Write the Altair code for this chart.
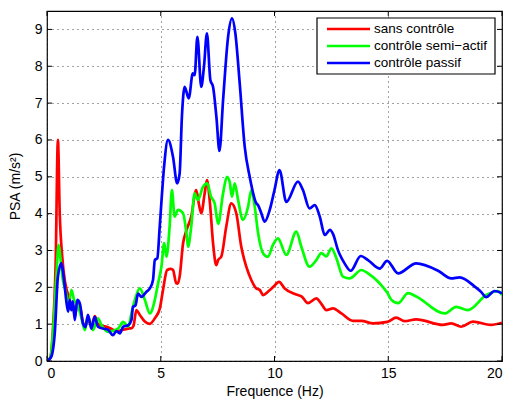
import altair as alt
import pandas as pd

# ---- data ----
series_names = ["sans contrôle", "contrôle semi−actif", "contrôle passif"]
series_colors = ["#ff0000", "#00ff00", "#0000ff"]

freq_red = [0, 0.15, 0.26, 0.38, 0.48, 0.56, 0.67, 0.78, 0.85, 1.0, 1.07, 1.14, 1.22, 1.33, 1.44,
            1.58, 1.69, 1.80, 1.95, 2.10, 2.24, 2.46, 2.62, 2.9, 3.13, 3.35, 3.57, 3.71, 3.8, 3.93,
            4.08, 4.3, 4.52, 4.74, 4.96, 5.1, 5.28, 5.45, 5.54, 5.68, 5.75, 5.83, 5.98, 6.13, 6.34,
            6.56, 6.67, 6.78, 6.93, 7.03, 7.15, 7.30, 7.44, 7.52, 7.66, 7.88, 8.10, 8.32, 8.54, 8.76,
            8.98, 9.2, 9.35, 9.5, 9.71, 9.93, 10.2, 10.45, 10.81, 11.03, 11.2, 11.47, 11.84, 12.06,
            12.28, 12.57, 12.94, 13.45, 13.82, 14.33, 14.96, 15.35, 15.72, 16.23, 17.4, 17.77,
            18.21, 18.72, 19.52, 20.0]
psa_red = [0, 0.1, 0.85, 2.65, 6.0, 4.0, 2.83, 2.2, 1.97, 1.66, 1.45, 1.55, 1.2, 1.55, 1.5,
           1.05, 0.95, 1.15, 0.95, 1.22, 1.0, 0.95, 0.93, 0.85, 0.81, 0.85, 0.88, 0.89, 0.95, 1.38,
           1.25, 1.07, 1.01, 1.16, 1.43, 1.93, 2.47, 2.5, 2.47, 2.11, 2.1, 2.29, 3.19, 3.55, 3.92,
           4.64, 4.28, 4.01, 4.55, 4.91, 4.37, 3.19, 2.6, 2.74, 2.83, 3.65, 4.28, 4.01, 3.10, 2.56,
           2.20, 1.97, 1.93, 1.79, 1.88, 2.0, 2.15, 1.97, 1.84, 1.79, 1.75, 1.57, 1.70, 1.55,
           1.38, 1.43, 1.29, 1.09, 1.09, 1.02, 1.06, 1.18, 1.08, 1.13, 0.98, 1.02,
           0.93, 1.07, 0.98, 1.04]

freq_green = [0, 0.15, 0.26, 0.41, 0.51, 0.60, 0.70, 0.85, 0.93, 1.07, 1.19, 1.37, 1.5, 1.66, 1.80,
              2.02, 2.24, 2.39, 2.68, 2.9, 3.13, 3.35, 3.57, 3.71, 3.86, 4.08, 4.3, 4.52, 4.74, 4.88,
              5.03, 5.15, 5.25, 5.39, 5.49, 5.61, 5.76, 5.98, 6.13, 6.20, 6.34, 6.49, 6.63, 6.86,
              7.04, 7.21, 7.37, 7.52, 7.74, 7.91, 8.03, 8.13, 8.25, 8.40, 8.61, 8.84, 8.98, 9.13,
              9.28, 9.50, 9.71, 9.93, 10.15, 10.52, 10.96, 11.18, 11.54, 11.84, 12.06, 12.28, 12.5,
              12.72, 13.01, 13.3, 13.82, 14.11, 14.62, 14.96, 15.14, 15.43, 15.87, 16.23, 17.48,
              17.99, 18.50, 19.31, 19.83, 20.0]
psa_green = [0, 0.1, 0.75, 2.29, 3.15, 2.74, 2.2, 1.79, 1.38, 1.93, 1.66, 1.48, 1.2, 0.84, 1.2,
             0.84, 1.16, 0.98, 0.79, 0.82, 0.88, 1.06, 0.93, 1.29, 1.66, 1.97, 1.66, 1.29, 1.66, 2.1,
             2.56, 3.2, 2.83, 3.65, 4.64, 3.92, 4.1, 4.01, 3.46, 3.10, 3.65, 4.55, 4.37, 4.73,
             4.82, 4.46, 4.28, 3.72, 4.55, 5.0, 4.86, 4.46, 4.82, 4.37, 3.83, 4.19, 4.64, 4.19,
             3.47, 2.92, 2.83, 3.15, 3.33, 2.88, 3.51, 3.1, 2.56, 2.74, 2.93, 2.84, 3.06,
             2.79, 2.29, 2.24, 2.47, 2.38, 2.11, 1.85, 1.66, 1.57, 1.84, 1.75, 1.29,
             1.47, 1.38, 1.79, 1.90, 1.79]

freq_blue = [0, 0.19, 0.34, 0.48, 0.63, 0.70, 0.78, 0.85, 0.93, 1.0, 1.07, 1.14, 1.22, 1.33, 1.44,
             1.58, 1.69, 1.80, 1.95, 2.10, 2.24, 2.46, 2.68, 2.90, 3.05, 3.20, 3.35, 3.57, 3.71,
             3.78, 3.89, 4.0, 4.15, 4.37, 4.52, 4.66, 4.74, 4.85, 4.95, 5.05, 5.15, 5.32, 5.54,
             5.72, 5.83, 5.93, 6.05, 6.23, 6.41, 6.49, 6.61, 6.78, 6.90, 7.03, 7.18, 7.30, 7.45,
             7.58, 7.74, 7.96, 8.13, 8.28, 8.47, 8.69, 8.91, 9.20, 9.28, 9.42, 9.57, 9.79, 10.0,
             10.22, 10.52, 11.03, 11.25, 11.54, 11.77, 11.99, 12.21, 12.44, 12.57, 12.79, 13.08,
             13.35, 13.79, 14.11, 14.62, 14.95, 15.43, 16.23, 17.19, 17.77, 18.14, 18.8, 19.09,
             19.30, 19.67, 20.0]
psa_blue = [0, 0.12, 0.75, 2.29, 2.66, 2.43, 2.02, 1.62, 1.34, 1.66, 1.38, 1.62, 1.11, 1.66, 1.57,
            1.02, 0.92, 1.25, 0.88, 1.20, 0.93, 0.88, 0.85, 0.70, 0.81, 0.75, 0.93, 0.97, 1.11,
            1.47, 1.51, 1.83, 1.74, 1.88, 1.97, 2.20, 2.74, 2.79, 3.6, 4.5, 5.3, 6.0, 5.54,
            4.82, 5.09, 6.63, 7.44, 7.13, 7.81, 7.76, 8.80, 7.44, 7.99, 8.89, 7.63, 7.44, 6.6,
            5.7, 7.08, 8.80, 9.30, 8.89, 7.54, 5.82, 5.0, 4.28, 4.23, 4.01, 3.78, 4.10, 4.64,
            5.18, 4.32, 4.87, 4.64, 4.14, 4.23, 3.92, 3.42, 3.56, 3.45, 3.01, 2.65,
            2.45, 2.85, 2.74, 2.51, 2.72, 2.38, 2.65, 2.45, 2.24, 2.27, 2.02, 1.87,
            1.73, 1.90, 1.84]

x_ticks = [0, 5, 10, 15, 20]
y_ticks = [0, 1, 2, 3, 4, 5, 6, 7, 8, 9]
x_max = 20
y_max = 9.5

# ---- build tables ----
series_data = [(freq_red, psa_red), (freq_green, psa_green), (freq_blue, psa_blue)]
frames = []
for name, (fs, vs) in zip(series_names, series_data):
    frames.append(pd.DataFrame({"f": fs, "psa": vs, "series": name}))

FONT = "Liberation Sans"
x_scale = alt.Scale(domain=[0, x_max], nice=False, zero=False)
y_scale = alt.Scale(domain=[0, y_max], nice=False, zero=False)
x_axis = alt.Axis(values=x_ticks, title="Frequence (Hz)", grid=True)
y_axis = alt.Axis(values=y_ticks, title="PSA (m/s²)", grid=True)
color_scale = alt.Scale(domain=series_names, range=series_colors)


def X(field):
    return alt.X(field, type="quantitative", scale=x_scale, axis=x_axis)


def Y(field):
    return alt.Y(field, type="quantitative", scale=y_scale, axis=y_axis)


layers = []
for fr in frames:
    layers.append(
        alt.Chart(fr).mark_line(strokeWidth=2.7, interpolate="monotone", clip=True).encode(
            x=X("f"), y=Y("psa"),
            color=alt.Color("series:N", scale=color_scale, legend=None),
        )
    )

# inward tick marks on all four sides (MATLAB box style)
tlx = 5 / 22.75   # tick length in x units
tly = 5 / 36.85   # tick length in y units
xt_bottom = pd.DataFrame({"f": x_ticks, "psa": [0] * len(x_ticks), "psa2": [tly] * len(x_ticks)})
xt_top = pd.DataFrame({"f": x_ticks, "psa": [y_max] * len(x_ticks), "psa2": [y_max - tly] * len(x_ticks)})
yt_left = pd.DataFrame({"psa": y_ticks, "f": [0] * len(y_ticks), "f2": [tlx] * len(y_ticks)})
yt_right = pd.DataFrame({"psa": y_ticks, "f": [x_max] * len(y_ticks), "f2": [x_max - tlx] * len(y_ticks)})
for d in (xt_bottom, xt_top):
    layers.append(alt.Chart(d).mark_rule(color="black", strokeWidth=1).encode(
        x=X("f"), y=Y("psa"), y2="psa2"))
for d in (yt_left, yt_right):
    layers.append(alt.Chart(d).mark_rule(color="black", strokeWidth=1).encode(
        y=Y("psa"), x=X("f"), x2="f2"))

# legend box (top right, inside the plot)
one = pd.DataFrame({"a": [0]})
layers.append(alt.Chart(one).mark_rect(fill="white", stroke="black", strokeWidth=1.2).encode(
    x=alt.value(270), x2=alt.value(448), y=alt.value(7), y2=alt.value(63)))
for i, (name, col) in enumerate(zip(series_names, series_colors)):
    yy = 18 + 17 * i
    layers.append(alt.Chart(one).mark_rule(color=col, strokeWidth=2.7).encode(
        x=alt.value(280), x2=alt.value(323), y=alt.value(yy)))
    layers.append(alt.Chart(one).mark_text(align="left", baseline="middle", fontSize=13.5,
                                           font=FONT, color="black", text=name).encode(
        x=alt.value(327), y=alt.value(yy)))

chart = alt.layer(*layers).properties(
    width=455, height=350,
    autosize=alt.AutoSizeParams(type="none"),
    padding={"left": 39, "top": 3, "right": 6, "bottom": 42},
    background="white",
).configure_view(
    stroke="black", strokeWidth=1.2
).configure_axis(
    ticks=False, domain=False,
    labelFont=FONT, titleFont=FONT, labelFontSize=14, titleFontSize=14,
    titleFontWeight="normal", labelColor="black", titleColor="black",
    gridColor="#333333", gridDash=[1, 4], gridWidth=1, gridOpacity=0.9,
).configure_axisX(
    labelPadding=5, titlePadding=4,
).configure_axisY(
    labelPadding=5, titlePadding=12,
)

chart.save("out.html", embed_options={"renderer": "svg", "actions": False})
